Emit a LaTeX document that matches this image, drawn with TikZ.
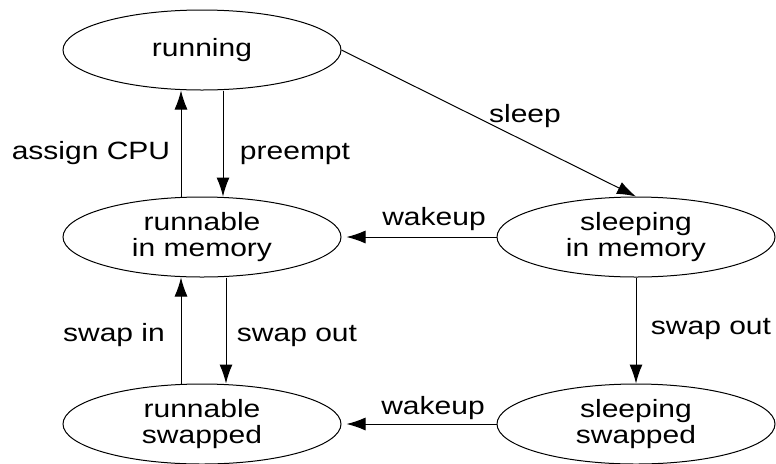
\documentclass[tikz,border=0pt]{standalone}
\usepackage{fontspec}
\setmainfont[FakeStretch=1.2]{Liberation Sans}
\usetikzlibrary{shapes.geometric,arrows.meta}
\begin{document}
\begin{tikzpicture}[x=0.5pt,y=0.5pt,line width=0.5pt,
  state/.style={draw,ellipse,inner sep=0pt,minimum width=139pt,minimum height=40pt,
    align=center,font=\fontsize{12.5}{13.4}\selectfont},
  lbl/.style={anchor=base,inner sep=0pt,font=\fontsize{12.5}{13.4}\selectfont},
  >={Latex[length=9.5pt,width=6.5pt]}]
\useasboundingbox (0,0) rectangle (776,463);
% states
\node[state] (running) at (202,413) {running};
\node[state] (runmem) at (202,226) {runnable\\in memory};
\node[state] (slmem) at (636,226) {sleeping\\in memory};
\node[state] (runswp) at (202,39) {runnable\\swapped};
\node[state] (slswp) at (636,39) {sleeping\\swapped};
% transitions
\draw[->] ([xshift=-10.5pt]runmem.north)--([xshift=-10.5pt]running.south);
\draw[->] ([xshift=10.5pt]running.south)--([xshift=10.5pt]runmem.north);
\draw[->] (running.east)--(slmem.north);
\draw[->,shorten >=2.5pt] (slmem.west)--(runmem.east);
\draw[->] ([xshift=-10.5pt]runswp.north)--([xshift=-10.5pt]runmem.south);
\draw[->] ([xshift=12pt]runmem.south)--([xshift=12pt]runswp.north);
\draw[->] (slmem.south)--(slswp.north);
\draw[->,shorten >=2.5pt] (slswp.west)--(runswp.east);
% labels
\node[lbl] (lcpu) at (91,304) {assign CPU};
\node[lbl] (lpre) at (295,304) {preempt};
\node[lbl] (lsleep) at (525,341) {sleep};
\node[lbl] (lwake) at (434,238) {wakeup};
\node[lbl] (lin) at (114,122) {swap in};
\node[lbl] (lout) at (297,122) {swap out};
\node[lbl] (lout2) at (711,129) {swap out};
\node[lbl] (lwake2) at (433,49) {wakeup};
\end{tikzpicture}
\end{document}
